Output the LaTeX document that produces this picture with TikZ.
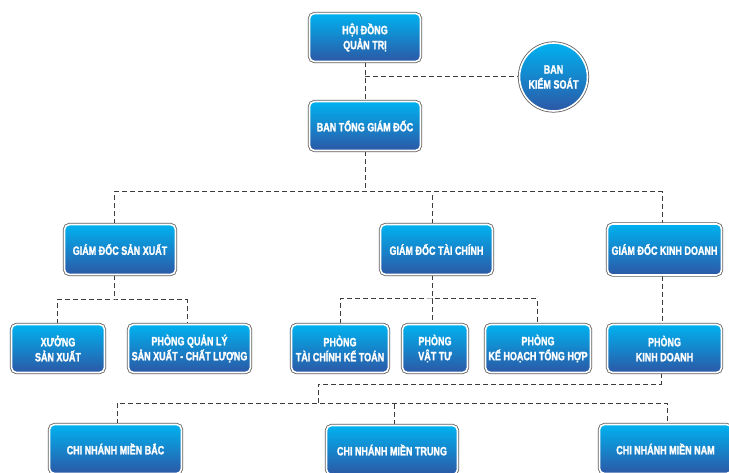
\documentclass[tikz,border=0pt]{standalone}
\usepackage{fontspec}
\newfontfamily\boxfont{Liberation Sans Bold}[FakeStretch=0.75, FakeBold=1.6]
\usetikzlibrary{backgrounds}
\definecolor{topc}{RGB}{0,178,240}
\definecolor{botc}{RGB}{44,88,166}
\definecolor{linec}{RGB}{60,60,60}
\definecolor{rimc}{RGB}{95,95,95}
\tikzset{
  shell/.style={top color=topc, bottom color=botc, draw=white, line width=1.6pt,
    preaction={draw=rimc, line width=3.2pt}, text=white,
    font=\boxfont\fontsize{12}{15}\selectfont, align=center, inner sep=0pt},
  box/.style={shell, rectangle, rounded corners=5pt},
  roundbox/.style={shell, circle},
  conn/.style={draw=linec, line width=1pt, dash pattern=on 5pt off 3pt}
}
\begin{document}
\begin{tikzpicture}[x=1pt,y=-1pt]
\clip (0,0) rectangle (729,473);
% level 0
\node[box, minimum width=111pt, minimum height=48pt] (hdqt) at (365,37.5) {HỘI ĐỒNG\\QUẢN TRỊ};
\node[roundbox, minimum size=68pt] (bks) at (553.5,77) {BAN\\KIỂM SOÁT};
\node[box, minimum width=111pt, minimum height=49pt] (btgd) at (365,126) {BAN TỔNG GIÁM ĐỐC};
% level 1
\node[box, minimum width=111pt, minimum height=50pt] (gdsx) at (120,249.5) {GIÁM ĐỐC SẢN XUẤT};
\node[box, minimum width=112pt, minimum height=50pt] (gdtc) at (436.5,249.5) {GIÁM ĐỐC TÀI CHÍNH};
\node[box, minimum width=114pt, minimum height=51pt] (gdkd) at (664.5,249.5) {GIÁM ĐỐC KINH DOANH};
% level 2
\node[box, minimum width=93pt, minimum height=48pt] (xsx) at (58,348.5) {XƯỞNG\\SẢN XUẤT};
\node[box, minimum width=122pt, minimum height=48pt] (pql) at (189.5,348.5) {PHÒNG QUẢN LÝ\\SẢN XUẤT - CHẤT LƯỢNG};
\node[box, minimum width=97pt, minimum height=48pt] (ptc) at (340,348.5) {PHÒNG\\TÀI CHÍNH KẾ TOÁN};
\node[box, minimum width=65pt, minimum height=48pt] (pvt) at (435,348.5) {PHÒNG\\VẬT TƯ};
\node[box, minimum width=105pt, minimum height=48pt] (pkh) at (538,348.5) {PHÒNG\\KẾ HOẠCH TỔNG HỢP};
\node[box, minimum width=114pt, minimum height=48pt] (pkd) at (664.5,348.5) {PHÒNG\\KINH DOANH};
% level 3
\node[box, minimum width=132pt, minimum height=49pt] (cnb) at (115.5,449) {CHI NHÁNH MIỀN BẮC};
\node[box, minimum width=131pt, minimum height=49pt] (cnt) at (392,450) {CHI NHÁNH MIỀN TRUNG};
\node[box, minimum width=132pt, minimum height=49pt] (cnn) at (665.5,449) {CHI NHÁNH MIỀN NAM};
% bus points
\coordinate (b1) at (365,192);
\coordinate (b2) at (114,300);
\coordinate (b3) at (432,299);
\coordinate (b4) at (318,384);
\coordinate (b5) at (318,403);
\begin{pgfonlayer}{background}
\fill[white] (0,0) rectangle (729,473);
\draw[conn] (hdqt) -- (btgd);
\draw[conn] (hdqt.south |- bks.west) -- (bks.west);
\draw[conn] (btgd) -- (b1);
\draw[conn] ([xshift=-6pt]gdsx.north) |- ([xshift=-2.5pt]gdkd.north |- b1) -- ([xshift=-2.5pt]gdkd.north);
\draw[conn] ([xshift=-4.5pt]gdtc.north) -- ([xshift=-4.5pt]gdtc.north |- b1);
\draw[conn] ([xshift=-6pt]gdsx.south) -- (b2);
\draw[conn] ([xshift=-1pt]xsx.north) |- (b2) -| ([xshift=-2.5pt]pql.north);
\draw[conn] ([xshift=-4.5pt]gdtc.south) -- ([xshift=-3pt]pvt.north);
\draw[conn] (ptc.north) |- (b3) -| ([xshift=-1pt]pkh.north);
\draw[conn] ([xshift=-2.5pt]gdkd.south) -- ([xshift=-2.5pt]pkd.north);
\draw[conn] ([xshift=-3.5pt]pkd.south) |- (b4) -- (b5);
\draw[conn] ([xshift=1.5pt]cnb.north) |- (b5) -| ([xshift=1.5pt]cnn.north);
\draw[conn] ([xshift=2pt]cnt.north) -- ([xshift=2pt]cnt.north |- b5);
\end{pgfonlayer}
\end{tikzpicture}
\end{document}
